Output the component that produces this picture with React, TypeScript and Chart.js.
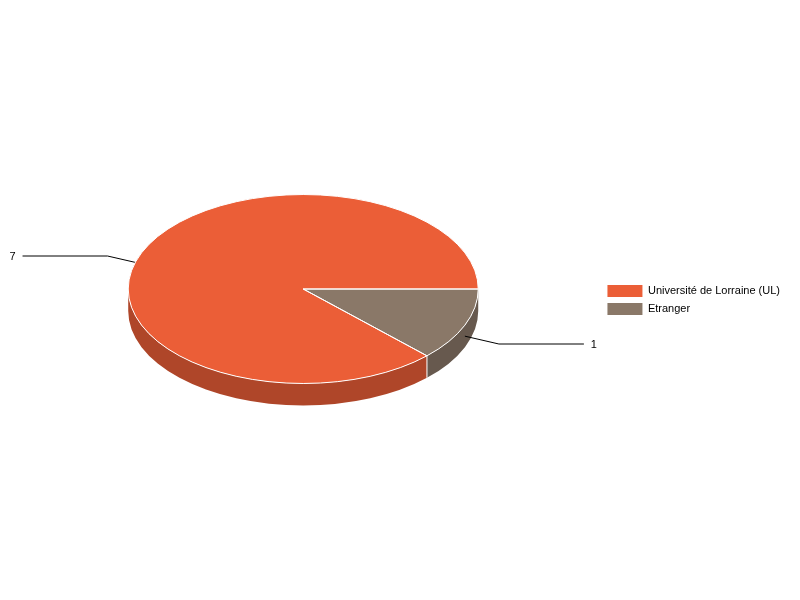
import React, { useEffect, useRef } from "react";
import { Chart, registerables } from "chart.js";

Chart.register(...registerables);

const categories = ["Université de Lorraine (UL)", "Etranger"];
const values = [7, 1];
const topColors = ["#EB5E37", "#8A7868"];
const wallColors = ["#AF4629", "#67594E"];

const TILT = 0.54;
const DEPTH = 22;
const ELBOW_X = 34;
const ELBOW_Y = 8;
const LEADER_RUN = 85;
const LABEL_GAP = 10;
const FONT = "11px 'Liberation Sans', Arial, sans-serif";

function arcs(chart: any) {
  return chart.getDatasetMeta(0).data.map((el: any, i: number) => {
    const p = el.getProps(["x", "y", "startAngle", "endAngle", "outerRadius"], true);
    return { ...p, i };
  });
}

const pie3d = {
  id: "pie3d",
  afterLayout(chart: any) {
    // The legend is centred on the whole page height, the pie a little above it.
    if (chart.legend) {
      chart.legend.top += 11;
      chart.legend.bottom += 11;
    }
  },
  beforeDatasetsDraw(chart: any) {
    const ctx = chart.ctx;
    const items = arcs(chart);

    // Side walls: only the front half of the rim is visible.
    for (const a of items) {
      const rx = a.outerRadius;
      const ry = rx * TILT;
      for (const k of [0, Math.PI * 2]) {
        const lo = Math.max(a.startAngle, k);
        const hi = Math.min(a.endAngle, k + Math.PI);
        if (hi <= lo) continue;
        ctx.beginPath();
        ctx.ellipse(a.x, a.y, rx, ry, 0, lo, hi);
        ctx.lineTo(a.x + rx * Math.cos(hi), a.y + ry * Math.sin(hi) + DEPTH);
        ctx.ellipse(a.x, a.y + DEPTH, rx, ry, 0, hi, lo, true);
        ctx.closePath();
        ctx.fillStyle = wallColors[a.i];
        ctx.fill();
      }
    }

    // Seams between walls.
    for (const a of items) {
      const rx = a.outerRadius;
      const ry = rx * TILT;
      const s = Math.sin(a.startAngle);
      if (s > 0.01) {
        const x = a.x + rx * Math.cos(a.startAngle);
        const y = a.y + ry * s;
        ctx.beginPath();
        ctx.moveTo(x, y);
        ctx.lineTo(x, y + DEPTH);
        ctx.strokeStyle = "#ffffff";
        ctx.lineWidth = 1;
        ctx.stroke();
      }
    }

    // Leader lines and value labels.
    for (const a of items) {
      const rx = a.outerRadius;
      const ry = rx * TILT;
      const m = (a.startAngle + a.endAngle) / 2;
      const dirX = Math.cos(m) >= 0 ? 1 : -1;
      const dirY = Math.sin(m) >= 0 ? 1 : -1;
      const x0 = a.x + rx * Math.cos(m);
      const y0 = a.y + ry * Math.sin(m) + DEPTH / 2;
      const x1 = x0 + dirX * ELBOW_X;
      const y1 = Math.round(y0 + dirY * ELBOW_Y);
      const x2 = x1 + dirX * LEADER_RUN;
      ctx.beginPath();
      ctx.moveTo(x0, y0);
      ctx.lineTo(x1, y1);
      ctx.lineTo(x2, y1);
      ctx.strokeStyle = "#000000";
      ctx.lineWidth = 1;
      ctx.stroke();
      ctx.fillStyle = "#000000";
      ctx.font = FONT;
      ctx.textAlign = "center";
      ctx.textBaseline = "middle";
      ctx.fillText(String(values[a.i]), x2 + dirX * LABEL_GAP, y1 + 1);
    }

    // Flatten the top face into an ellipse.
    ctx.save();
    const c = items[0];
    ctx.translate(c.x, c.y);
    ctx.scale(1, TILT);
    ctx.translate(-c.x, -c.y);
  },
  afterDatasetsDraw(chart: any) {
    const ctx = chart.ctx;
    ctx.restore();
    for (const a of arcs(chart)) {
      const rx = a.outerRadius;
      const ry = rx * TILT;
      ctx.beginPath();
      ctx.moveTo(a.x, a.y);
      ctx.ellipse(a.x, a.y, rx, ry, 0, a.startAngle, a.endAngle);
      ctx.closePath();
      ctx.strokeStyle = "#ffffff";
      ctx.lineWidth = 1;
      ctx.stroke();
    }
  },
};

export default function App() {
  const ref = useRef<HTMLCanvasElement>(null);
  useEffect(() => {
    const chart = new Chart(ref.current as HTMLCanvasElement, {
      type: "pie",
      data: {
        labels: categories,
        datasets: [
          {
            data: values,
            backgroundColor: topColors,
            borderWidth: 0,
            radius: 175,
          } as any,
        ],
      },
      options: {
        animation: false,
        responsive: false,
        devicePixelRatio: 1,
        rotation: 135,
        layout: { padding: { left: 5, right: 10, top: 0, bottom: 22 } },
        plugins: {
          tooltip: { enabled: false },
          legend: {
            position: "right",
            labels: {
              boxWidth: 35,
              boxHeight: 12,
              padding: 6,
              color: "#000000",
              font: { family: "'Liberation Sans', Arial, sans-serif", size: 11 },
            },
          },
        },
      } as any,
      plugins: [pie3d as any],
    });
    return () => chart.destroy();
  }, []);
  return (
    <div style={{ position: "absolute", left: 0, top: 0, width: 800, height: 600, background: "#fff" }}>
      <canvas ref={ref} width={800} height={600} style={{ display: "block" }} />
    </div>
  );
}
